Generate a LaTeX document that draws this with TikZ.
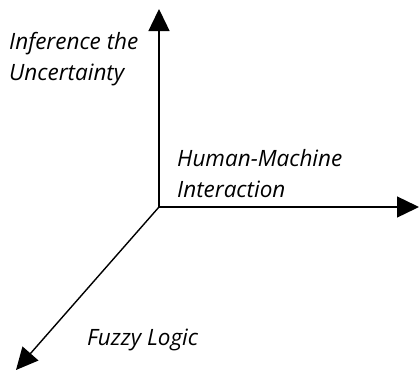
\documentclass[tikz,border=0pt]{standalone}
\usepackage{fontspec}
\setsansfont{Open Sans}
\usetikzlibrary{arrows.meta}

\begin{document}
\begin{tikzpicture}[
  x=1pt, y=-1pt,
  axis/.style={line width=1.4pt, -{Triangle[length=22pt, width=21pt]}},
  label/.style={anchor=base west, align=left, inner sep=0pt,
    font=\sffamily\itshape\fontsize{22.5}{31}\selectfont},
]
\useasboundingbox (0,0) rectangle (420,372);
% axes meet at the origin
\coordinate (o) at (159,207);
\coordinate (up) at (159,9);
\coordinate (right) at (419,207);
\coordinate (down) at (16,370);
\draw[axis] (o) -- (up);
\draw[axis] (o) -- (right);
\draw[axis] (o) -- (down);
% axis titles (base = last line)
\node[label] (infer) at (9,80) {Inference the\\Uncertainty};
\node[label] (hmi) at (177,197) {Human-Machine\\Interaction};
\node[label] (fuzzy) at (87,345) {Fuzzy Logic};
\end{tikzpicture}
\end{document}
